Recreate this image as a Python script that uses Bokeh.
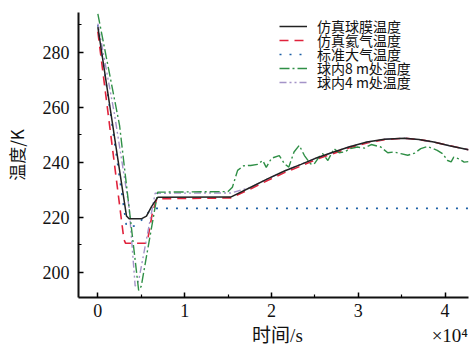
from bokeh.plotting import figure
from bokeh.models import Range1d, FixedTicker, Legend, LegendItem, LinearAxis
from bokeh.embed import file_html
from bokeh.resources import INLINE

# time in seconds
t_mem = [0, 3300, 3600, 5000, 5600, 6200, 6900, 15300, 17500, 19600, 21500, 23400, 25000, 27000, 29000, 31000, 33000, 35300, 37000, 38700, 40500, 42700]
k_mem = [289.2, 220.5, 219.5, 219.5, 220.5, 224.0, 227.3, 227.4, 230.8, 234.1, 236.9, 239.3, 241.4, 243.6, 245.7, 247.4, 248.4, 248.8, 248.3, 247.4, 246.1, 244.6]

t_he = [0, 3000, 3200, 5500, 5800, 6300, 6800, 15300, 17500, 19600, 21500, 23400, 25000, 27000, 29000, 31000, 33000, 35300, 37000, 38700, 40500, 42700]
k_he = [287.5, 212.0, 210.6, 210.6, 213.0, 222.0, 226.8, 227.1, 230.2, 233.5, 236.3, 238.7, 240.9, 243.1, 245.3, 247.1, 248.3, 248.8, 248.3, 247.4, 246.1, 244.6]

t_std = [0, 3300, 4200, 5200, 6000, 6600, 42700]
k_std = [290.0, 216.7, 216.9, 219.5, 222.5, 223.3, 223.3]

t_8m = [0, 2500, 4700, 5000, 6900, 15000, 15500, 16100, 16800, 17600, 18400, 19000, 19400, 20000, 20900, 21500, 22000, 22600, 23200, 23800, 24500,
        24900, 25500, 25900, 26500, 27200, 27800, 28400, 29100, 29900, 30700, 31500, 32600, 33400, 34100, 34900, 35700, 36500, 37200, 38000,
        39100, 39700, 40300, 40700, 41000, 41600, 42200, 42700]
k_8m = [294.0, 253.5, 193.5, 195.0, 229.2, 229.4, 231.0, 237.1, 238.8, 238.9, 239.3, 240.7, 238.2, 241.5, 242.5, 239.5, 238.3, 243.8, 246.2, 242.5, 239.5,
        239.3, 242.0, 243.2, 240.7, 245.0, 243.5, 243.8, 245.0, 245.6, 245.2, 246.5, 245.6, 243.5, 243.8, 243.2, 242.6, 243.4, 245.0, 245.8,
        244.4, 243.2, 240.7, 240.2, 241.9, 241.3, 240.1, 240.3]

t_4m = [0, 1900, 3600, 4300, 4700, 6600, 15300, 17500, 19600, 21500, 23400, 25000, 27000, 29000, 31000, 33000, 35300, 37000, 38700, 40500, 42700]
k_4m = [290.5, 257.8, 223.7, 195.0, 197.0, 228.8, 228.9, 230.8, 234.1, 236.9, 239.3, 241.4, 243.6, 245.7, 247.4, 248.4, 248.8, 248.3, 247.4, 246.1, 244.6]

labels = ["仿真球膜温度", "仿真氦气温度", "标准大气温度", "球内8 m处温度", "球内4 m处温度"]
x_ticks = [0, 10000, 20000, 30000, 40000]
x_tick_labels = ["0", "1", "2", "3", "4"]
y_ticks = [200, 220, 240, 260, 280]
x_title = "时间/s"
x_scale_note = "×10⁴"
y_title = "温度/K"

p = figure(width=474, height=351, output_backend="svg", toolbar_location=None,
           x_range=Range1d(-2230, 42700), y_range=Range1d(190.9, 294.5),
           min_border_left=77, min_border_right=6, min_border_top=12, min_border_bottom=54)
p.outline_line_color = None
p.grid.visible = False
p.background_fill_color = "white"
p.border_fill_color = "white"

CJK = "Noto Sans CJK SC"
SERIF = "Liberation Serif"
MIXED = "'Liberation Serif', 'Noto Sans CJK SC'"

r_he = p.line(t_he, k_he, line_color="#e0223b", line_width=1.6, line_dash="9 6")
r_std = p.line(t_std, k_std, line_color="#1d5fa5", line_width=1.6, line_dash="2 8")
r_4m = p.line(t_4m, k_4m, line_color="#a493c8", line_width=1.4, line_dash="7 3 2 3 2 3")
r_8m = p.line(t_8m, k_8m, line_color="#2f8f46", line_width=1.4, line_dash="10 3 2 3")
r_mem = p.line(t_mem, k_mem, line_color="#222222", line_width=1.5)

for ax in (p.xaxis[0], p.yaxis[0]):
    ax.axis_line_width = 2
    ax.axis_line_color = "#111111"
    ax.major_tick_in = 5
    ax.major_tick_out = 0
    ax.minor_tick_in = 3
    ax.minor_tick_out = 0
    ax.major_tick_line_width = 1.5
    ax.minor_tick_line_width = 1.2
    ax.major_label_text_font = SERIF
    ax.major_label_text_font_size = "18px"
    ax.major_label_text_color = "#111111"
    ax.axis_label_text_font = CJK
    ax.axis_label_text_font_size = "17px"
    ax.axis_label_text_font_style = "normal"
    ax.axis_label_text_color = "#111111"

p.xaxis.ticker = FixedTicker(ticks=x_ticks, minor_ticks=[5000, 15000, 25000, 35000])
p.xaxis.major_label_overrides = {t: s for t, s in zip(x_ticks, x_tick_labels)}
p.xaxis.major_label_standoff = 6

# second, line-less axis below carrying the axis title and the ×10⁴ factor on one row
title_pos = [20690, 40550]
ax2 = LinearAxis(ticker=FixedTicker(ticks=title_pos, minor_ticks=[]),
                 major_label_overrides={title_pos[0]: x_title, title_pos[1]: x_scale_note},
                 axis_line_color=None, major_tick_line_color=None, minor_tick_line_color=None,
                 major_tick_in=0, major_tick_out=0, minor_tick_in=0, minor_tick_out=0,
                 major_label_standoff=5, major_label_text_font=MIXED,
                 major_label_text_font_size="19px", major_label_text_color="#111111")
p.add_layout(ax2, "below")

p.yaxis.ticker = FixedTicker(ticks=y_ticks, minor_ticks=[210, 230, 250, 270, 290])
p.yaxis.major_label_standoff = 9
p.yaxis.axis_label = y_title
p.yaxis.axis_label_standoff = 11

renderers = [r_mem, r_he, r_std, r_8m, r_4m]
row_h = 14.0
first_center = 25.5
est_h = 20.0
for i, (lbl, r) in enumerate(zip(labels, renderers)):
    c = first_center + i * row_h
    lg = Legend(items=[LegendItem(label=lbl, renderers=[r])],
                location=(201, 297 - c - est_h / 2), padding=0, margin=0, spacing=0,
                glyph_width=28, glyph_height=14, label_height=14, label_standoff=10,
                label_text_font=CJK, label_text_font_size="14px", label_text_color="#111111",
                border_line_color=None, background_fill_alpha=0)
    p.add_layout(lg)

open("out.html", "w").write(file_html(p, INLINE))
